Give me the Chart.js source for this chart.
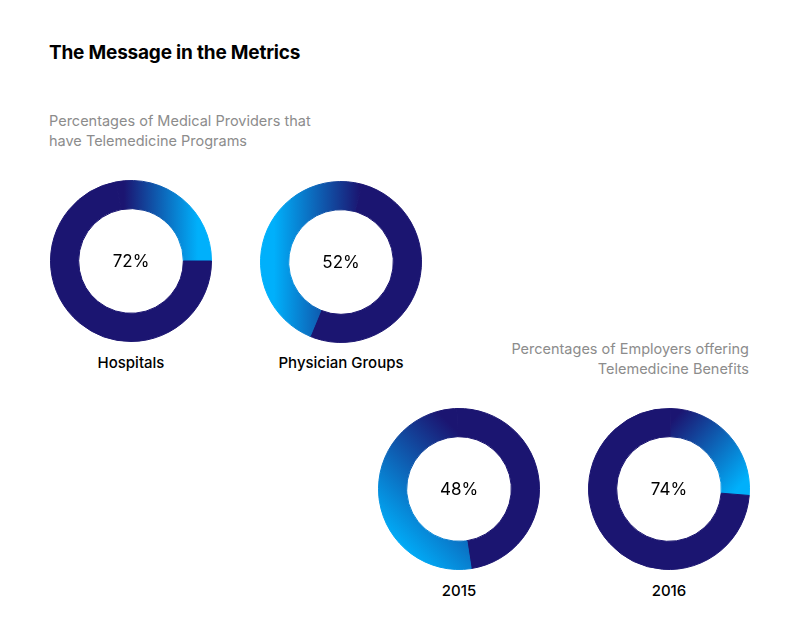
<!DOCTYPE html>
<html>
<head>
<meta charset="utf-8">
<script src="https://cdn.jsdelivr.net/npm/chart.js@4.4.1/dist/chart.umd.min.js"></script>
<style>
  html, body { margin: 0; padding: 0; background: #ffffff; }
  body { width: 800px; height: 632px; position: relative; overflow: hidden; font-family: Inter, "Noto Sans", sans-serif; }
  .txt { position: absolute; white-space: nowrap; }
  #title { left: 49px; top: 42px; font-size: 19px; line-height: 22px; font-weight: 700; color: #000; letter-spacing: -0.2px; }
  .sub { font-size: 14.5px; line-height: 19.5px; color: #8c8c8c; font-weight: 400; }
  #sub1 { left: 49px; top: 111px; }
  #sub2 { right: 51px; top: 339px; text-align: right; }
  .lbl { font-size: 15px; line-height: 18px; color: #000; font-weight: 500; width: 200px; text-align: center; }
  canvas { position: absolute; }
</style>
</head>
<body>
<div id="title" class="txt">The Message in the Metrics</div>
<div id="sub1" class="txt sub">Percentages of Medical Providers that<br>have Telemedicine Programs</div>
<div id="sub2" class="txt sub">Percentages of Employers offering<br>Telemedicine Benefits</div>
<script>
// ---- data ----
const categories = ['Hospitals', 'Physician Groups', '2015', '2016'];
const values = [72, 52, 48, 74];               // percentage shown in each ring
const valueFirst = [false, true, true, false]; // segment order in each ring
const centerLabels = ['72%', '52%', '48%', '74%'];

// ---- layout / style (not data) ----
const centers = [[131, 261], [341, 262], [459, 489], [669, 489]];
const rotations = [-10.8, 15.3, -1.5, 1];
const labelY = [354, 354, 582, 582];
const SIZE = 164;
const NAVY = '#1b1571';
const LIGHT = '#00b0fb';
// gradient endpoints in canvas-local coords: [navy point], [light point]
const gradSpecs = [
  [[75, 40], [149, 40]],
  [[101, 60], [15, 60]],
  [[99, 43], [11, 131]],
  [[83, 16], [153, 79]]
];

const centerText = {
  id: 'centerText',
  afterDatasetsDraw(chart, args, opts) {
    const ctx = chart.ctx;
    const meta = chart.getDatasetMeta(0).data[0];
    if (!meta) return;
    ctx.save();
    ctx.font = '400 17px Inter, "Noto Sans", sans-serif';
    ctx.fillStyle = '#000';
    ctx.textAlign = 'center';
    ctx.textBaseline = 'middle';
    ctx.fillText(opts.text, meta.x, meta.y + 1);
    ctx.restore();
  }
};

categories.forEach((cat, i) => {
  const cv = document.createElement('canvas');
  cv.width = SIZE; cv.height = SIZE;
  cv.style.width = SIZE + 'px'; cv.style.height = SIZE + 'px';
  cv.style.left = (centers[i][0] - SIZE / 2) + 'px';
  cv.style.top = (centers[i][1] - SIZE / 2) + 'px';
  document.body.appendChild(cv);

  const lbl = document.createElement('div');
  lbl.className = 'txt lbl';
  lbl.textContent = cat;
  lbl.style.left = (centers[i][0] - 100) + 'px';
  lbl.style.top = labelY[i] + 'px';
  document.body.appendChild(lbl);

  const v = values[i];
  const rest = 100 - v;
  const data = valueFirst[i] ? [v, rest] : [rest, v];
  const valueIdx = valueFirst[i] ? 0 : 1;
  const spec = gradSpecs[i];

  const fill = (c) => {
    if (c.dataIndex === valueIdx) return NAVY;
    const ch = c.chart;
    if (!ch.chartArea) return LIGHT;
    const g = ch.ctx.createLinearGradient(spec[0][0], spec[0][1], spec[1][0], spec[1][1]);
    g.addColorStop(0, NAVY);
    g.addColorStop(1, LIGHT);
    return g;
  };

  new Chart(cv, {
    type: 'doughnut',
    data: {
      labels: valueFirst[i] ? [cat, 'Other'] : ['Other', cat],
      datasets: [{
        data: data,
        borderWidth: 1,
        borderColor: fill,
        borderJoinStyle: 'round',
        backgroundColor: fill
      }]
    },
    options: {
      responsive: false,
      animation: false,
      cutout: '65%',
      rotation: rotations[i],
      layout: { padding: 1 },
      plugins: {
        legend: { display: false },
        tooltip: { enabled: false },
        centerText: { text: centerLabels[i] }
      }
    },
    plugins: [centerText]
  });
});
</script>
</body>
</html>
